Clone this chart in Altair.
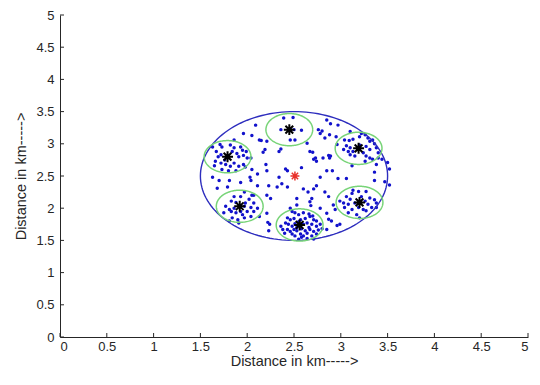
import altair as alt
import numpy as np
import pandas as pd

# ---------------- data ----------------
field_center_x = 2.5
field_center_y = 2.5
field_radius = 1.0

head_x = [2.45, 1.79, 3.19, 1.92, 2.56, 3.20]
head_y = [3.22, 2.80, 2.93, 2.03, 1.74, 2.09]
cluster_radius = 0.25

sink_x = [2.51]
sink_y = [2.50]

bottom_cluster = [
    [2.48, 1.95], [2.51, 1.93], [2.55, 1.90], [2.60, 1.93], [2.66, 1.91], [2.67, 1.87],
    [2.43, 1.85], [2.46, 1.82], [2.50, 1.84], [2.57, 1.82], [2.62, 1.84], [2.71, 1.82],
    [2.74, 1.80], [2.41, 1.77], [2.44, 1.75], [2.48, 1.72], [2.51, 1.76], [2.60, 1.75],
    [2.64, 1.77], [2.69, 1.75], [2.74, 1.72], [2.78, 1.75], [2.43, 1.67], [2.46, 1.64],
    [2.50, 1.67], [2.53, 1.65], [2.58, 1.68], [2.62, 1.65], [2.67, 1.67], [2.71, 1.64],
    [2.76, 1.66], [2.80, 1.68], [2.48, 1.60], [2.51, 1.57], [2.57, 1.60], [2.60, 1.57],
    [2.64, 1.61], [2.69, 1.57], [2.74, 1.60], [2.55, 1.52], [2.58, 1.55], [2.71, 1.52],
    [2.64, 1.53], [2.38, 1.67], [2.36, 1.72], [2.53, 1.70], [2.66, 1.70], [2.40, 1.61],
    [2.55, 1.79], [2.70, 1.88],
]
top_left_cluster = [
    [1.71, 2.99], [1.63, 2.95], [1.73, 2.95], [1.82, 2.98], [1.86, 2.94], [1.93, 2.95],
    [1.95, 2.90], [1.99, 2.88], [1.67, 2.88], [1.69, 2.80], [1.72, 2.83], [1.89, 2.85],
    [1.91, 2.80], [1.96, 2.82], [2.00, 2.78], [1.66, 2.73], [1.72, 2.70], [1.77, 2.68],
    [1.82, 2.65], [1.86, 2.70], [1.91, 2.65], [1.96, 2.68], [1.65, 2.66], [1.73, 2.60],
    [1.80, 2.58], [1.88, 2.58], [1.98, 2.64], [2.05, 2.60], [1.76, 2.75], [1.84, 2.88],
]
top_right_cluster = [
    [3.10, 3.19], [3.22, 3.16], [3.26, 3.14], [3.20, 3.11], [3.04, 3.06], [3.09, 3.05],
    [3.13, 3.07], [3.29, 3.09], [3.31, 3.04], [3.34, 3.06], [3.36, 3.00], [3.06, 2.97],
    [3.10, 2.94], [3.03, 2.91], [3.08, 2.88], [3.13, 2.88], [3.27, 2.96], [3.31, 2.91],
    [3.38, 2.94], [3.40, 2.86], [3.10, 2.83], [3.15, 2.81], [3.24, 2.86], [3.27, 2.81],
    [3.31, 2.78], [3.34, 2.76], [3.40, 2.78], [3.26, 2.73], [3.20, 2.98],
]
bottom_left_cluster = [
    [1.97, 2.25], [2.05, 2.20], [1.86, 2.18], [1.93, 2.18], [2.02, 2.14], [1.83, 2.11],
    [1.88, 2.09], [1.98, 2.08], [2.07, 2.08], [1.77, 2.03], [1.81, 1.98], [1.86, 2.00],
    [1.97, 2.03], [2.04, 2.01], [2.11, 2.00], [1.75, 1.93], [1.83, 1.95], [1.88, 1.93],
    [1.93, 1.95], [2.00, 1.95], [2.07, 1.95], [1.84, 1.85], [1.90, 1.82], [1.97, 1.85],
    [2.04, 1.87], [1.81, 1.80], [1.91, 1.77], [2.13, 1.87], [1.95, 1.90],
]
bottom_right_cluster = [
    [3.13, 2.28], [3.19, 2.26], [3.12, 2.23], [3.27, 2.26], [3.06, 2.18], [3.10, 2.14],
    [3.22, 2.18], [3.31, 2.16], [3.36, 2.13], [2.99, 2.11], [3.03, 2.08], [3.08, 2.06],
    [3.15, 2.08], [3.26, 2.11], [3.29, 2.06], [3.38, 2.08], [3.04, 2.01], [3.12, 1.98],
    [3.19, 2.01], [3.24, 1.98], [3.33, 2.01], [3.38, 2.01], [3.08, 1.93], [3.17, 1.90],
    [3.27, 1.96], [3.20, 1.85],
]
top_cluster = [
    [2.39, 3.40], [2.49, 3.41], [2.36, 3.22], [2.50, 3.22], [2.46, 3.06], [2.51, 3.06],
    [2.58, 3.21],
]
scattered = [
    [1.86, 3.06], [1.96, 3.16], [2.05, 3.13], [2.03, 2.48], [2.89, 3.31], [2.96, 2.99],
    [2.89, 2.81], [2.91, 2.58], [3.12, 2.66], [3.38, 2.68], [3.36, 2.56], [3.50, 2.71],
    [3.52, 2.61], [3.44, 2.76], [1.70, 2.43], [1.81, 2.43], [2.04, 2.43], [2.11, 2.35],
    [2.97, 2.46], [3.06, 2.46], [3.36, 2.43], [3.47, 2.41], [3.52, 2.36], [2.87, 2.18],
    [2.87, 1.83], [2.90, 1.80], [2.96, 1.73], [2.67, 2.10], [2.68, 2.04], [2.92, 2.05],
    [2.94, 1.98], [2.85, 1.67], [2.22, 1.78], [2.24, 1.75], [2.09, 3.29], [2.13, 3.06],
    [2.15, 3.05], [2.21, 3.04], [2.19, 2.91], [2.17, 2.87], [2.34, 2.88], [2.36, 2.92],
    [2.04, 2.78], [1.68, 2.31], [1.79, 2.33], [1.93, 2.40], [2.11, 2.53], [2.20, 2.68],
    [2.21, 2.58], [2.23, 2.35], [2.32, 2.33], [2.37, 2.38], [2.43, 2.33], [2.43, 2.58],
    [2.41, 2.61], [2.34, 2.48], [2.07, 2.20], [2.21, 2.20], [2.25, 2.15], [2.21, 1.92],
    [2.23, 1.65], [2.58, 2.63], [2.60, 2.30], [2.65, 2.25], [2.71, 2.30], [2.53, 2.15],
    [2.69, 2.15], [2.74, 2.35], [2.78, 2.48], [2.85, 2.58], [2.83, 2.25], [2.67, 2.88],
    [2.70, 2.87], [2.73, 2.78], [2.71, 2.76], [2.81, 2.78], [2.87, 2.82], [2.76, 3.22],
    [2.80, 3.20], [2.78, 3.16], [2.85, 3.37], [2.83, 3.09], [2.95, 3.11], [2.64, 3.01],
    [2.46, 2.00], [2.53, 2.05], [2.78, 2.00], [2.85, 1.92], [2.99, 1.75], [2.97, 3.29],
    [2.88, 3.14], [2.88, 2.78], [2.74, 2.73], [1.63, 2.48],
]

tick_values = [0, 0.5, 1, 1.5, 2, 2.5, 3, 3.5, 4, 4.5, 5]
axis_title = "Distance in km----->"

# ---------------- tables ----------------
W, H = 468, 322
FONT = "Liberation Sans"
TXT = "#262626"


def ring(cx, cy, r, name):
    a = np.linspace(0, 2 * np.pi, 145)
    return pd.DataFrame({"x": cx + r * np.cos(a), "y": cy + r * np.sin(a),
                         "k": np.arange(len(a)), "g": name})


field_df = ring(field_center_x, field_center_y, field_radius, "field")
clusters_df = pd.concat([ring(x, y, cluster_radius, f"c{i}")
                         for i, (x, y) in enumerate(zip(head_x, head_y))])
nodes = (bottom_cluster + top_left_cluster + top_right_cluster + bottom_left_cluster
         + bottom_right_cluster + top_cluster + scattered)
nodes_df = pd.DataFrame(nodes, columns=["x", "y"])
heads_df = pd.DataFrame({"x": head_x, "y": head_y})
sink_df = pd.DataFrame({"x": sink_x, "y": sink_y})
ticks_df = pd.DataFrame({"x": tick_values, "y": tick_values})

sc = alt.Scale(domain=[0, 5], nice=False, zero=False)
ASTER = "M-1,0L1,0M0,-1L0,1M-0.71,-0.71L0.71,0.71M-0.71,0.71L0.71,-0.71"

xa = alt.Axis(values=tick_values, format="~g", title=axis_title, labelPadding=3,
              titlePadding=1)
ya = alt.Axis(values=tick_values, format="~g", title=axis_title, labelPadding=6,
              titlePadding=7)

X = alt.X("x:Q", scale=sc, axis=xa)
Y = alt.Y("y:Q", scale=sc, axis=ya)

nodes_layer = alt.Chart(nodes_df).mark_circle(size=12, color="#1212cc", opacity=1).encode(
    x=X, y=Y)
field_layer = alt.Chart(field_df).mark_line(color="#2e2ebe", strokeWidth=1.4).encode(
    x=X, y=Y, order="k:Q")
clusters_layer = alt.Chart(clusters_df).mark_line(color="#78d478", strokeWidth=1.5).encode(
    x=X, y=Y, detail="g:N", order="k:Q")
heads_layer = alt.Chart(heads_df).mark_point(
    shape=ASTER, filled=False, color="black", strokeWidth=2, size=120, opacity=1
).encode(x=X, y=Y)
sink_layer = alt.Chart(sink_df).mark_point(
    shape=ASTER, filled=False, color="#e8302a", strokeWidth=1.5, size=80, opacity=1
).encode(x=X, y=Y)

xticks = alt.Chart(ticks_df).mark_rule(color=TXT, strokeWidth=1).encode(
    x=X, y=alt.value(H), y2=alt.value(H - 4))
yticks = alt.Chart(ticks_df).mark_rule(color=TXT, strokeWidth=1).encode(
    y=Y, x=alt.value(0), x2=alt.value(4))

chart = alt.layer(
    nodes_layer, field_layer, clusters_layer, heads_layer, sink_layer, xticks, yticks
).properties(
    width=W, height=H,
    autosize=alt.AutoSizeParams(type="none"),
    padding={"left": 52, "top": 7, "right": 4, "bottom": 35},
).configure_view(stroke=None).configure_axis(
    grid=False, ticks=False, domainColor=TXT, domainWidth=1,
    labelColor=TXT, titleColor=TXT, labelFont=FONT, titleFont=FONT,
    labelFontSize=13, titleFontSize=14.5, titleFontWeight="normal",
)

chart.save("out.html", embed_options={"renderer": "svg", "actions": False})
